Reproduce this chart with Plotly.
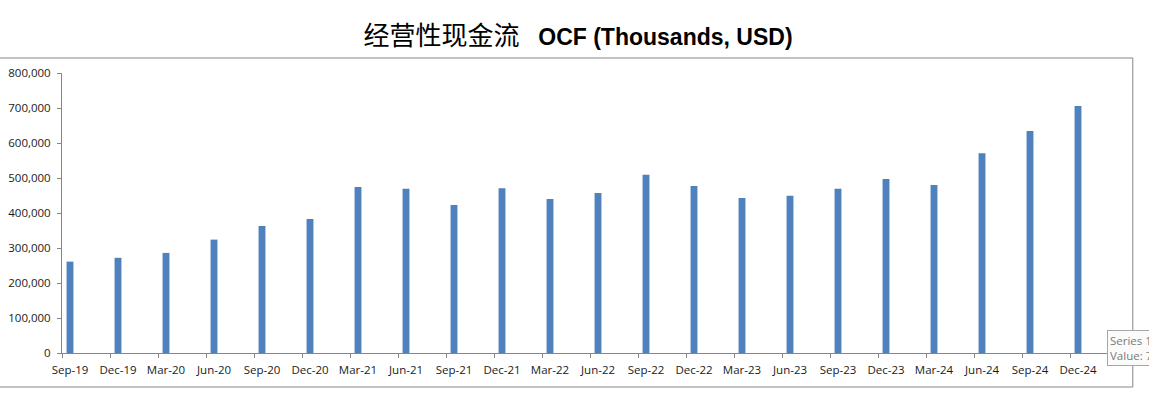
import plotly.graph_objects as go

categories = ["Sep-19", "Dec-19", "Mar-20", "Jun-20", "Sep-20", "Dec-20", "Mar-21", "Jun-21",
              "Sep-21", "Dec-21", "Mar-22", "Jun-22", "Sep-22", "Dec-22", "Mar-23", "Jun-23",
              "Sep-23", "Dec-23", "Mar-24", "Jun-24", "Sep-24", "Dec-24"]
ocf_values = [261000, 272000, 286000, 324000, 363000, 383000, 474000, 469000,
              423000, 471000, 440000, 457000, 509000, 477000, 443000, 449000,
              469000, 497000, 480000, 571000, 634000, 706000]
y_ticks = [0, 100000, 200000, 300000, 400000, 500000, 600000, 700000, 800000]

# date-style axis: one slot per month, a bar every quarter
month_pos = [3 * i for i in range(len(categories))]
n_months = 3 * len(categories)

W, H = 1149, 393
L, R, T, B = 62, 1118.2, 73, 353
AX = "#868686"

fig = go.Figure()
fig.add_trace(go.Bar(
    x=month_pos, y=ocf_values, width=0.43,
    marker=dict(color="#4F81BD", line=dict(width=0)),
    name="Series 1",
))

def px_x(p):
    return (p - L) / (R - L)

def px_y(p):
    return (B - p) / (B - T)

fig.update_layout(
    width=W, height=H,
    margin=dict(l=L, r=W - R, t=T, b=H - B, autoexpand=False),
    paper_bgcolor="white", plot_bgcolor="white",
    showlegend=False,
    title=dict(
        text='<span style="font-family:\'Noto Sans CJK SC\';font-size:26px">经营性现金流\u2002 </span>'
             '<b>OCF (Thousands, USD)</b>',
        x=578 / W, xanchor="center", y=1 - 37 / H, yanchor="middle",
        xref="container", yref="container",
        font=dict(family="Liberation Sans, Arial", size=23, color="#000000"),
    ),
    xaxis=dict(
        range=[-0.5, n_months - 0.5],
        tickmode="array", tickvals=month_pos, ticktext=categories,
        ticks="", showgrid=False, zeroline=False,
        showline=True, linecolor=AX, linewidth=1,
        tickfont=dict(family="Open Sans, Liberation Sans", size=11.5, color="#1a1a1a"),
        ticklabelstandoff=6,
        minor=dict(tickmode="array", tickvals=[m - 0.5 for m in month_pos] + [n_months - 0.5],
                   ticks="outside", ticklen=4, tickcolor=AX, tickwidth=1, showgrid=False),
        automargin=False, fixedrange=True,
    ),
    yaxis=dict(
        range=[0, 800000],
        tickmode="array", tickvals=y_ticks, ticktext=[f"{v:,}" for v in y_ticks],
        ticks="outside", ticklen=4, tickcolor=AX, tickwidth=1,
        showgrid=False, zeroline=False,
        showline=True, linecolor=AX, linewidth=1,
        tickfont=dict(family="Open Sans, Liberation Sans", size=11.5, color="#1a1a1a"),
        ticklabelstandoff=4,
        automargin=False, fixedrange=True,
    ),
    shapes=[
        dict(type="rect", xref="paper", yref="paper",
             x0=px_x(-2), x1=px_x(1133), y0=px_y(387), y1=px_y(58),
             line=dict(color=AX, width=1), fillcolor="rgba(0,0,0,0)", layer="below"),
    ],
    annotations=[
        dict(text="Series 1<br>Value: 706,000", xref="paper", yref="paper",
             x=px_x(1107), y=px_y(330), xanchor="left", yanchor="top",
             showarrow=False, align="left",
             font=dict(family="Open Sans, Liberation Sans", size=11.5, color="#7a7a7a"),
             bgcolor="#fbfbfb", bordercolor="#a6a6a6", borderwidth=1, borderpad=2),
    ],
)

fig.write_html("out.html", config={"displayModeBar": False},
               post_script="document.body.style.margin='0';")
